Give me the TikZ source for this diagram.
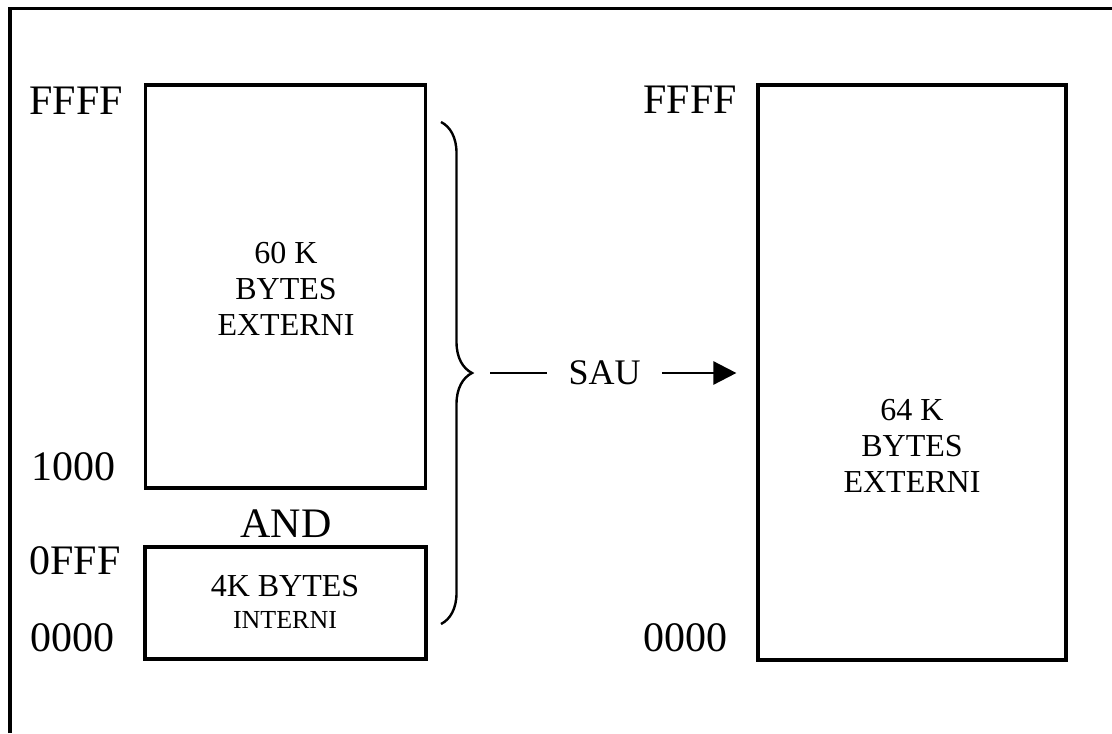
\documentclass[tikz,border=0pt]{standalone}
\usepackage{fontspec}
\setmainfont{Liberation Serif}
\usetikzlibrary{arrows.meta,decorations.pathreplacing}

\begin{document}
\begin{tikzpicture}[x=0.5pt,y=-0.5pt,
  membox/.style={draw,line width=1.6pt,inner sep=0pt},
  addr/.style={anchor=west,inner sep=0pt,font=\fontsize{21}{21}\selectfont},
  boxtext/.style={align=center,inner sep=0pt,font=\fontsize{16}{18}\selectfont}]
\useasboundingbox (0,0) rectangle (1112,733);
\draw[line width=1.6pt] (10,733) -- (10,8.5) -- (1112,8.5);

% memory blocks
\node[membox,minimum width=140pt,minimum height=201.5pt] (ext60) at (285.5,286.5) {};
\node[membox,minimum width=140.5pt,minimum height=56pt] (int4) at (285.5,603) {};
\node[membox,minimum width=154pt,minimum height=287.5pt] (ext64) at (912,372.5) {};

\node[boxtext] (txt60) at (286,289) {60 K\\BYTES\\EXTERNI};
\node[boxtext,font=\fontsize{16}{16}\selectfont] (txt4) at (285,602) {4K BYTES\\{\fontsize{13}{16}\selectfont INTERNI}};
\node[boxtext] (txt64) at (912,446) {64 K\\BYTES\\EXTERNI};

\node[inner sep=0pt,font=\fontsize{21}{21}\selectfont] (and) at (286,524) {AND};

% addresses
\node[addr] (hiA) at (29,100.5) {FFFF};
\node[addr] (midA) at (31,467) {1000};
\node[addr] (midB) at (29,561) {0FFF};
\node[addr] (loA) at (30,638) {0000};
\node[addr] (hiB) at (643,100) {FFFF};
\node[addr] (loB) at (643,638) {0000};

% brace and arrow
\draw[line width=1.2pt,decorate,decoration={brace,amplitude=15.5pt}] (441,122) -- (441,624);
\coordinate (tip) at (472,373);
\node[inner xsep=10.5pt,inner ysep=0pt,font=\fontsize{18}{18}\selectfont] (sau) at (604.5,373) {SAU};
\draw[line width=1.3pt,shorten <=9pt] (tip) -- (sau.west);
\draw[line width=1.3pt,-{Triangle[length=11.5pt,width=11.5pt]},shorten >=10pt] (sau.east) -- (sau.east -| ext64.west);
\end{tikzpicture}
\end{document}
